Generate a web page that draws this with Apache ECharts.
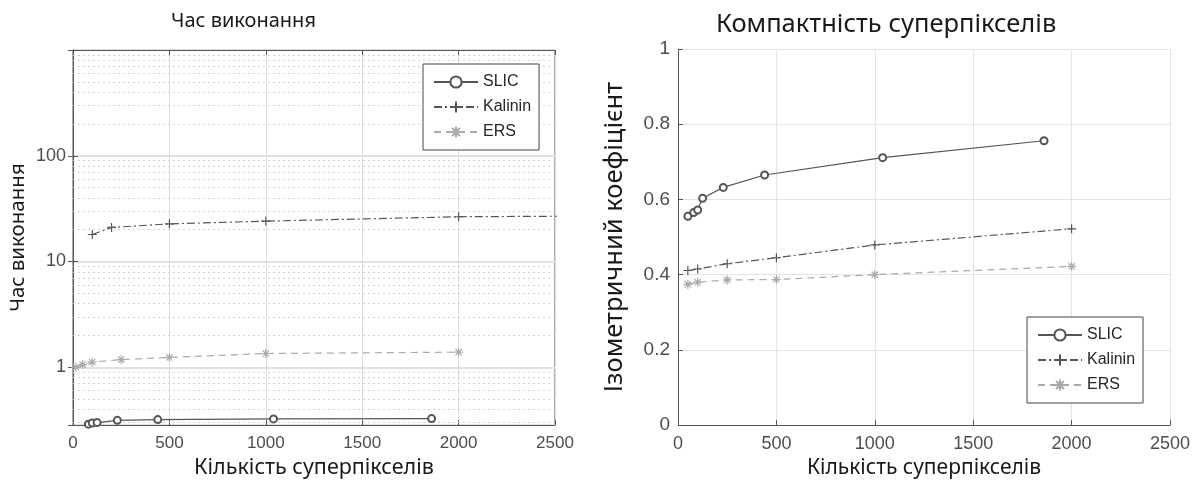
<!DOCTYPE html>
<html>
<head>
<meta charset="utf-8">
<script src="https://cdn.jsdelivr.net/npm/echarts@6/dist/echarts.min.js"></script>
<style>
    html, body { margin: 0; padding: 0; background: #fff; }
    #chart { width: 1203px; height: 484px; }
</style>
</head>
<body>
<div id="chart"></div>
<script>
// кількість суперпікселів по осі X
const slicX = [50, 80, 100, 125, 230, 440, 1040, 1860];
const kalininTimeX = [100, 200, 500, 1000, 2000, 3000];
const ersTimeX = [15, 50, 100, 250, 500, 1000, 2000];
const compactX = [50, 100, 250, 500, 1000, 2000];

// час виконання (лог. шкала)
const slicTime = [0.28, 0.29, 0.297, 0.30, 0.315, 0.32, 0.325, 0.327];
const kalininTime = [18.0, 21.0, 22.7, 24.1, 26.5, 27.1];
const ersTime = [1.0, 1.06, 1.12, 1.18, 1.24, 1.35, 1.39];

// ізометричний коефіцієнт
const slicIso = [0.555, 0.565, 0.572, 0.603, 0.632, 0.665, 0.711, 0.756];
const kalininIso = [0.411, 0.415, 0.429, 0.445, 0.479, 0.522];
const ersIso = [0.374, 0.380, 0.386, 0.387, 0.400, 0.422];

// допоміжні лінії сітки між декадами
const minorGridTime = [
    0.3, 0.4, 0.5, 0.6, 0.7, 0.8, 0.9,
    2, 3, 4, 5, 6, 7, 8, 9,
    20, 30, 40, 50, 60, 70, 80, 90,
    200, 300, 400, 500, 600, 700, 800, 900
];
const legendNames = ['SLIC', 'Kalinin', 'ERS'];

const pairs = (xs, ys) => xs.map((x, i) => [x, ys[i]]);

const plusPath = 'path://M4 0L4 8M0 4L8 4';
const starPath = 'path://M4 0L4 8M0 4L8 4M1.2 1.2L6.8 6.8M1.2 6.8L6.8 1.2';

const labelFont = { fontFamily: 'Liberation Sans', fontSize: 17, color: '#4d4d4d' };
const nameFont = { fontFamily: 'Noto Sans', color: '#1a1a1a' };
const axisColor = '#555';

const styles = {
    SLIC: {
        symbol: 'emptyCircle', symbolSize: 7,
        itemStyle: { color: '#555', borderWidth: 1 },
        lineStyle: { color: '#555', width: 1.2, type: 'solid' }
    },
    Kalinin: {
        symbol: plusPath, symbolSize: 9,
        itemStyle: { color: '#555', borderColor: '#555', borderWidth: 1.2 },
        lineStyle: { color: '#555', width: 1.2, type: [8, 3, 2, 3] }
    },
    ERS: {
        symbol: starPath, symbolSize: 9,
        itemStyle: { color: '#aaa', borderColor: '#aaa', borderWidth: 1.2 },
        lineStyle: { color: '#aaa', width: 1.2, type: [7, 5] }
    }
};

const makeSeries = (name, data, xi, yi) => Object.assign({
    name: name,
    type: 'line',
    xAxisIndex: xi,
    yAxisIndex: yi,
    data: data,
    showSymbol: true,
    clip: true
}, styles[name]);

const series = [
    makeSeries('SLIC', pairs(slicX, slicTime), 0, 0),
    makeSeries('Kalinin', pairs(kalininTimeX, kalininTime), 0, 0),
    makeSeries('ERS', pairs(ersTimeX, ersTime), 0, 0),
    makeSeries('SLIC', pairs(slicX, slicIso), 2, 2),
    makeSeries('Kalinin', pairs(compactX, kalininIso), 2, 2),
    makeSeries('ERS', pairs(compactX, ersIso), 2, 2)
];
// пунктирна сітка лог. шкали
series[0].markLine = {
    silent: true,
    symbol: 'none',
    z: 1,
    label: { show: false },
    lineStyle: { color: '#d2d2d2', type: [2, 3], width: 1 },
    data: minorGridTime.map(v => ({ yAxis: v }))
};

const decadeLabel = (v) => {
    const p = Math.log10(v);
    if (Math.abs(p - Math.round(p)) > 1e-6 || v > 999) return '';
    return String(Math.round(v));
};
const plainLabel = (v) => String(v);

const chart = echarts.init(document.getElementById('chart'));
chart.setOption({
    animation: false,
    backgroundColor: '#fff',
    title: [
        {
            text: 'Час виконання', left: 166, top: 6,
            textStyle: Object.assign({ fontSize: 20, fontWeight: 'normal' }, nameFont)
        },
        {
            text: 'Компактність суперпікселів', left: 711, top: 7,
            textStyle: Object.assign({ fontSize: 25.5, fontWeight: 'normal' }, nameFont)
        }
    ],
    legend: [
        {
            data: legendNames, orient: 'vertical', left: 423, top: 64, z: 20,
            padding: [10, 8, 10, 10], itemWidth: 44, itemHeight: 14, itemGap: 9,
            borderColor: '#444', borderWidth: 1, backgroundColor: '#fff',
            textStyle: { fontFamily: 'Liberation Sans', fontSize: 16, color: '#262626' }
        },
        {
            data: legendNames, orient: 'vertical', left: 1027, top: 317, z: 20,
            padding: [10, 8, 10, 10], itemWidth: 44, itemHeight: 14, itemGap: 9,
            borderColor: '#444', borderWidth: 1, backgroundColor: '#fff',
            textStyle: { fontFamily: 'Liberation Sans', fontSize: 16, color: '#262626' }
        }
    ],
    grid: [
        { left: 73, right: 648, top: 50, bottom: 58, show: true, borderColor: axisColor, borderWidth: 1 },
        { left: 678, right: 33, top: 49, bottom: 58 }
    ],
    xAxis: [
        {
            gridIndex: 0, type: 'value', min: 0, max: 2500, interval: 500,
            name: 'Кількість суперпікселів', nameLocation: 'middle', nameGap: 25,
            nameTextStyle: Object.assign({ fontSize: 21.5 }, nameFont),
            axisLine: { show: true, lineStyle: { color: axisColor } },
            axisTick: { inside: true, length: 5, lineStyle: { color: axisColor } },
            axisLabel: Object.assign({ margin: 10, formatter: plainLabel }, labelFont),
            splitLine: { show: true, lineStyle: { color: '#dcdcdc' } }
        },
        {
            gridIndex: 0, type: 'value', position: 'top', min: 0, max: 2500, interval: 500,
            axisLine: { show: true, lineStyle: { color: axisColor } },
            axisTick: { inside: true, length: 5, lineStyle: { color: axisColor } },
            axisLabel: { show: false },
            splitLine: { show: false }
        },
        {
            gridIndex: 1, type: 'value', min: 0, max: 2500, interval: 500,
            name: 'Кількість суперпікселів', nameLocation: 'middle', nameGap: 29,
            nameTextStyle: Object.assign({ fontSize: 21 }, nameFont),
            axisLine: { show: true, lineStyle: { color: axisColor } },
            axisTick: { inside: true, length: 5, lineStyle: { color: axisColor } },
            axisLabel: Object.assign({ margin: 10, formatter: plainLabel }, labelFont, { fontSize: 18 }),
            splitLine: { show: true, lineStyle: { color: '#e3e3e3' } }
        }
    ],
    yAxis: [
        {
            gridIndex: 0, type: 'log', logBase: 10, min: 0.284, max: 1000,
            name: 'Час виконання', nameLocation: 'middle', nameGap: 44,
            nameTextStyle: Object.assign({ fontSize: 20.5 }, nameFont),
            axisLine: { show: true, lineStyle: { color: axisColor } },
            axisTick: { inside: true, length: 5, lineStyle: { color: axisColor } },
            axisLabel: Object.assign({ margin: 7, formatter: decadeLabel, showMinLabel: false, showMaxLabel: false }, labelFont, { fontSize: 18 }),
            splitLine: { show: true, lineStyle: { color: '#e0e0e0', width: 2 } }
        },
        {
            gridIndex: 0, type: 'log', logBase: 10, min: 0.284, max: 1000, position: 'right',
            axisLine: { show: true, lineStyle: { color: axisColor } },
            axisTick: { inside: true, length: 5, lineStyle: { color: axisColor } },
            axisLabel: { show: false },
            splitLine: { show: false }
        },
        {
            gridIndex: 1, type: 'value', min: 0, max: 1, interval: 0.2,
            name: 'Ізометричний коефіцієнт', nameLocation: 'middle', nameGap: 50,
            nameTextStyle: Object.assign({ fontSize: 25.5 }, nameFont),
            axisLine: { show: true, lineStyle: { color: axisColor } },
            axisTick: { inside: true, length: 5, lineStyle: { color: axisColor } },
            axisLabel: Object.assign({ margin: 8 }, labelFont, { fontSize: 19 }),
            splitLine: { show: true, lineStyle: { color: '#e3e3e3' } }
        }
    ],
    series: series
});
</script>
</body>
</html>
